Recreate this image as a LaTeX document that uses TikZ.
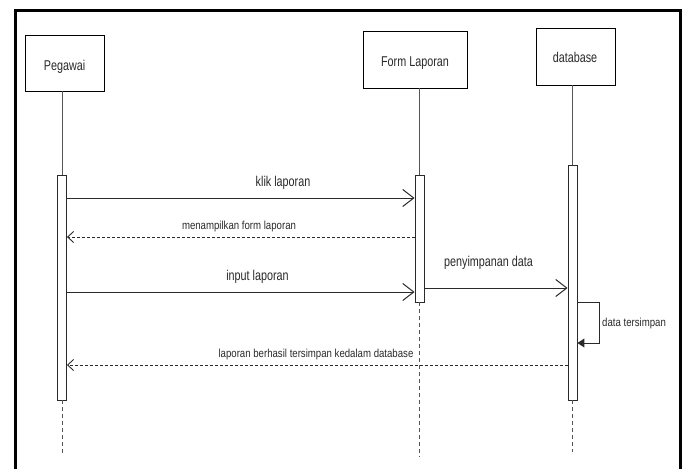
\documentclass[tikz,border=0pt]{standalone}
\usepackage{fontspec}
\setmainfont{Liberation Sans}
\newfontfamily\headfont{Liberation Sans}[FakeStretch=0.76]
\newfontfamily\notefont{Liberation Sans}[FakeStretch=0.83]
\usetikzlibrary{arrows.meta}
\definecolor{ink}{HTML}{2A2A2A}
\definecolor{life}{HTML}{555555}
\newcommand{\bigtxt}{\headfont\fontsize{14.2}{16}\selectfont}
\newcommand{\smalltxt}{\notefont\fontsize{11.6}{14}\selectfont}
\begin{document}
\begin{tikzpicture}[x=1pt,y=-1pt,
  actor/.style={draw=black,line width=0.9pt,fill=white,inner sep=0pt},
  actbar/.style={draw=ink,line width=0.9pt,fill=white,inner sep=0pt,minimum width=9pt},
  lifeline/.style={draw=life,line width=0.8pt},
  tail/.style={draw=life,line width=0.9pt,dash pattern=on 4pt off 3pt},
  call/.style={draw=ink,line width=1pt,-{Straight Barb[length=11pt,width=17pt,line width=1pt]}},
  reply/.style={draw=ink,line width=1pt,dash pattern=on 3pt off 2pt,
    -{Straight Barb[length=6pt,width=11pt,line width=0.9pt]}},
  selfcall/.style={draw=ink,line width=1pt,-{Triangle[length=7pt,width=9pt]}},
  lbl/.style={text=ink,inner sep=0pt,anchor=base},
]
\useasboundingbox (0,0) rectangle (692,468);
\fill[white] (0,0) rectangle (692,468);
% outer frame
\draw[line width=2.4pt] (15.5,470) -- (15.5,10.5) -- (680.5,10.5) -- (680.5,470);

% participants
\node[actor,minimum width=79pt,minimum height=56pt] (peg) at (64.5,63) {};
\node[lbl,font=\bigtxt] (pegt) at (64.5,71) {Pegawai};
\node[actor,minimum width=104pt,minimum height=57pt] (form) at (415,59.5) {};
\node[lbl,font=\bigtxt] (formt) at (415,67) {Form Laporan};
\node[actor,minimum width=79pt,minimum height=57pt] (db) at (575.5,56.5) {};
\node[lbl,font=\bigtxt] (dbt) at (575,63) {database};

% activation bars
\node[actbar,minimum height=225pt] (apeg) at (62,287.5) {};
\node[actbar,minimum height=127pt] (aform) at (419.5,238.5) {};
\node[actbar,minimum height=235pt] (adb) at (572.5,282.5) {};

% lifelines
\coordinate (pegend) at (62,453);
\coordinate (formend) at (419.5,457);
\coordinate (dbend) at (572.5,452);
\draw[lifeline] (peg.south -| apeg.north) -- (apeg.north);
\draw[lifeline] (form.south -| aform.north) -- (aform.north);
\draw[lifeline] (db.south -| adb.north) -- (adb.north);
\draw[tail] (apeg.south) -- (pegend);
\draw[tail] (aform.south) -- (formend);
\draw[tail] (adb.south) -- (dbend);

% messages
\draw[call] (apeg.east |- 0,198) -- (aform.west |- 0,198);
\node[lbl,font=\bigtxt] (m1) at (283,186) {klik laporan};

\draw[reply] (aform.west |- 0,237) -- (apeg.east |- 0,237);
\node[lbl,font=\smalltxt] (m2) at (239,229) {menampilkan form laporan};

\draw[call] (apeg.east |- 0,292) -- (aform.west |- 0,292);
\node[lbl,font=\bigtxt] (m3) at (257.5,280.5) {input laporan};

\draw[call] (aform.east |- 0,288) -- (adb.west |- 0,288);
\node[lbl,font=\bigtxt] (m4) at (488.5,266) {penyimpanan data};

\coordinate (selfa) at (599,302);
\coordinate (selfb) at (599,343);
\draw[selfcall] (adb.east |- selfa) -- (selfa) -- (selfb) -- (adb.east |- selfb);
\node[lbl,font=\smalltxt,anchor=base west] (m5) at (602,326.5) {data tersimpan};

\draw[reply] (adb.west |- 0,365) -- (apeg.east |- 0,365);
\node[lbl,font=\smalltxt] (m6) at (316,357) {laporan berhasil tersimpan kedalam database};
\end{tikzpicture}
\end{document}
